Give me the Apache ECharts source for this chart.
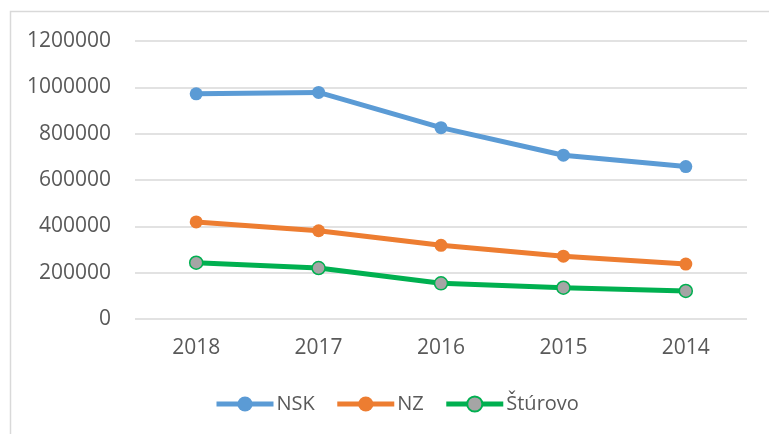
<!DOCTYPE html>
<html>
<head>
<meta charset="utf-8">
<script src="https://cdn.jsdelivr.net/npm/echarts@6/dist/echarts.min.js"></script>
</head>
<body style="margin:0;padding:0;background:#fff;">
<div id="chart" style="width:769px;height:434px;"></div>
<script>
// data
const years = ['2018', '2017', '2016', '2015', '2014'];
const nsk = [972000, 978000, 826000, 707000, 658000];
const nz = [419000, 381000, 318000, 271000, 237000];
const sturovo = [243000, 220000, 154000, 135000, 121000];

const labelColor = '#595959';
const gridColor = '#D9D9D9';
const font = 'Open Sans';

function lineSeries(name, data, color, fill, border) {
  return {
    name, data, type: 'line',
    symbol: 'circle', symbolSize: 13,
    lineStyle: { color, width: 5 },
    itemStyle: { color: fill, borderColor: border, borderWidth: border ? 1.5 : 0 },
    emphasis: { disabled: true },
    animation: false
  };
}

const chart = echarts.init(document.getElementById('chart'));
chart.setOption({
  animation: false,
  graphic: [{
    type: 'rect',
    shape: { x: 10.5, y: 11.5, width: 800, height: 500 },
    style: { fill: 'none', stroke: gridColor, lineWidth: 1.5 },
    silent: true
  }],
  grid: { left: 135, right: 22, top: 41, bottom: 115, containLabel: false },
  legend: {
    top: 389, left: 209,
    itemWidth: 57, itemHeight: 19, itemGap: 20,
    lineStyle: { width: 5 },
    textStyle: { color: labelColor, fontSize: 20, fontFamily: font, padding: [0, 0, 0, -2] },
    data: ['NSK', 'NZ', 'Štúrovo']
  },
  xAxis: {
    type: 'category', data: years,
    axisLine: { show: false }, axisTick: { show: false },
    axisLabel: { color: labelColor, fontSize: 21, fontFamily: font, margin: 19 }
  },
  yAxis: {
    type: 'value', min: 0, max: 1200000, interval: 200000,
    axisLabel: { color: labelColor, fontSize: 21, fontFamily: font, margin: 24, formatter: v => String(v) },
    splitLine: { lineStyle: { color: gridColor, width: 1.5 } },
    axisLine: { show: false }, axisTick: { show: false }
  },
  series: [
    lineSeries('NSK', nsk, '#5B9BD5', '#5B9BD5'),
    lineSeries('NZ', nz, '#ED7D31', '#ED7D31'),
    lineSeries('Štúrovo', sturovo, '#00B050', '#A5A5A5', '#00B050')
  ]
});
</script>
</body>
</html>
